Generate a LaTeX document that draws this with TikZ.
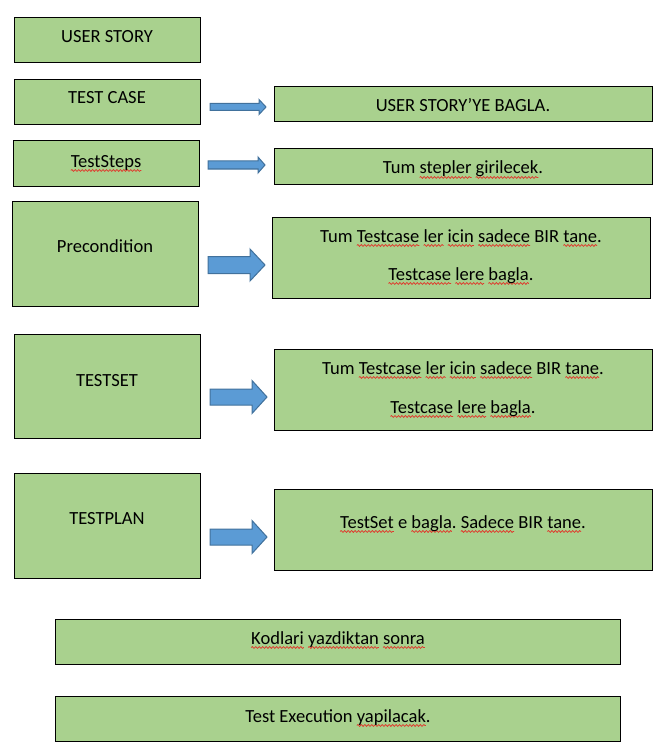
\documentclass[tikz,border=0pt]{standalone}
\usepackage{fontspec}
\setmainfont{Carlito}
\usetikzlibrary{decorations.pathmorphing}
\definecolor{boxgreen}{HTML}{A9D18E}
\definecolor{arrowblue}{HTML}{5B9BD5}
\definecolor{arrowedge}{HTML}{41719C}
\definecolor{squigred}{HTML}{E0382C}
\frenchspacing
\newlength\sqlen
\newcommand\sq[1]{\settowidth\sqlen{#1}\rlap{\tikz[overlay,x=1pt,y=1pt]\draw[draw=squigred,line width=0.55pt,decorate,decoration={snake,amplitude=0.7pt,segment length=2.6pt}] (0,-2.6) -- (\sqlen,-2.6);}#1}
\newcommand\blockarrow[6]{% x1, xbase, xtip, yc, shaft half, head half
  \draw[barrow] (#1,{#4-#5}) -- (#2,{#4-#5}) -- (#2,{#4-#6}) -- (#3,#4) -- (#2,{#4+#6}) -- (#2,{#4+#5}) -- (#1,{#4+#5}) -- cycle;}
\begin{document}
\begin{tikzpicture}[x=0.75pt,y=-0.75pt,
  box/.style={draw=black,line width=0.75pt,fill=boxgreen},
  lbl/.style={anchor=base,inner sep=0pt,font=\fontsize{13.9}{16}\selectfont\frenchspacing},
  barrow/.style={draw=arrowedge,line width=0.75pt,fill=arrowblue,line join=miter}]
\useasboundingbox (0,0) rectangle (671,756);
% left column boxes
\path[box] (14,18) rectangle (200,63);
\path[box] (14,80) rectangle (200,125);
\path[box] (13,141) rectangle (199,186);
\path[box] (12,201) rectangle (198,306);
\path[box] (14,334) rectangle (200,438);
\path[box] (14,473) rectangle (200,578);
% right column boxes
\path[box] (274,87) rectangle (652,122);
\path[box] (274,149) rectangle (652,184);
\path[box] (272,217) rectangle (650,298);
\path[box] (274,349) rectangle (652,430);
\path[box] (274,489) rectangle (652,570);
% bottom boxes
\path[box] (55,619) rectangle (620,664);
\path[box] (55,696) rectangle (620,741);
% left texts
\node[lbl] (t1) at (107,43) {USER STORY};
\node[lbl] (t2) at (107,104) {TEST CASE};
\node[lbl] (t3) at (106,167) {\sq{TestSteps}};
\node[lbl] (t4) at (105,252) {Precondition};
\node[lbl] (t5) at (107,386) {TESTSET};
\node[lbl] (t6) at (107,524) {TESTPLAN};
% right texts
\node[lbl] (r1) at (463,112) {USER STORY’YE BAGLA.};
\node[lbl] (r2) at (463,174) {Tum \sq{stepler} \sq{girilecek}.};
\node[lbl] (r3a) at (461,242) {Tum \sq{Testcase} \sq{ler} \sq{icin} \sq{sadece} BIR \sq{tane}.};
\node[lbl] (r3b) at (461,280) {\sq{Testcase} \sq{lere} \sq{bagla}.};
\node[lbl] (r4a) at (463,374) {Tum \sq{Testcase} \sq{ler} \sq{icin} \sq{sadece} BIR \sq{tane}.};
\node[lbl] (r4b) at (463,413) {\sq{Testcase} \sq{lere} \sq{bagla}.};
\node[lbl] (r5) at (463,528) {\sq{TestSet} e \sq{bagla}. \sq{Sadece} BIR \sq{tane}.};
% bottom texts
\node[lbl] (b1) at (338,644) {\sq{Kodlari} \sq{yazdiktan} \sq{sonra}};
\node[lbl] (b2) at (338,722) {Test Execution \sq{yapilacak}.};
% block arrows
\blockarrow{210}{259}{266}{107}{3.5}{7.5}
\blockarrow{208}{258}{265}{165}{4}{8}
\blockarrow{208}{250}{265}{265}{8.5}{16}
\blockarrow{210}{252}{267}{397}{8}{16.5}
\blockarrow{210}{252}{267}{537}{8}{16.5}
\end{tikzpicture}
\end{document}
